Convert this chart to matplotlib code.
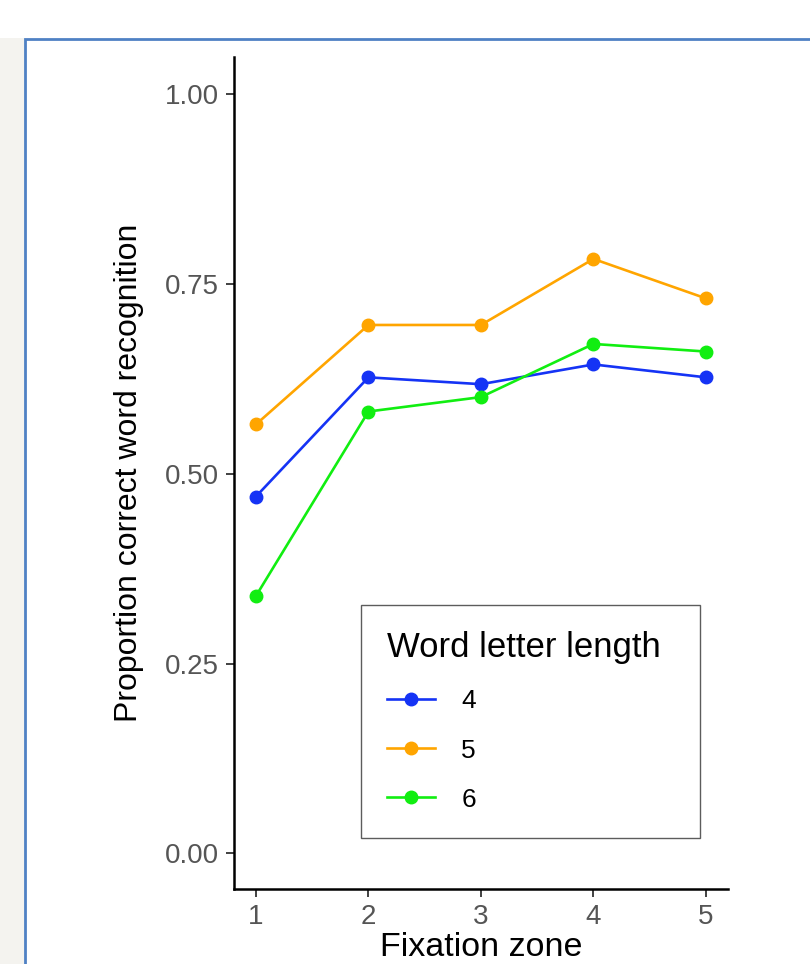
import matplotlib.pyplot as plt
from matplotlib.patches import Rectangle
from matplotlib.lines import Line2D

zones = [1, 2, 3, 4, 5]
len4 = [0.470, 0.627, 0.618, 0.644, 0.627]
len5 = [0.565, 0.696, 0.696, 0.783, 0.731]
len6 = [0.339, 0.582, 0.601, 0.671, 0.661]
series_labels = ["4", "5", "6"]
series_colors = ["#1533F5", "#FFA500", "#11EE11"]
yticks = [0.00, 0.25, 0.50, 0.75, 1.00]

plt.rcParams['font.family'] = ['Liberation Sans', 'DejaVu Sans']

W, H = 810, 964
fig = plt.figure(figsize=(W / 100, H / 100), dpi=100)

# fondo gris a la izquierda y marco azul
fig.patches.append(Rectangle((0, 0), 25 / W, (H - 38) / H, transform=fig.transFigure,
                             facecolor="#F4F3EF", edgecolor="none", zorder=0))
fig.patches.append(Rectangle((25 / W, -0.01), 1.0, (H - 39) / H + 0.01, transform=fig.transFigure,
                             facecolor="none", edgecolor="#4F81C4", linewidth=2, zorder=1))

ax = fig.add_axes([234 / W, (H - 889) / H, (728 - 234) / W, (889 - 57) / H])

for ys, lab, col in zip([len4, len5, len6], series_labels, series_colors):
    ax.plot(zones, ys, color=col, linewidth=1.9, marker="o", markersize=9, label=lab)

ax.set_xlim(0.805, 5.196)
ax.set_ylim(-0.047, 1.049)
ax.set_xticks(zones)
ax.set_yticks(yticks)
ax.set_yticklabels([f"{v:.2f}" for v in yticks])
for s in ["top", "right"]:
    ax.spines[s].set_visible(False)
for s in ["left", "bottom"]:
    ax.spines[s].set_linewidth(1.8)
ax.tick_params(axis="both", length=6, width=1.3, color="#333333",
               labelsize=20, labelcolor="#555555", pad=5)
ax.set_xlabel("Fixation zone", fontsize=24.5, labelpad=1)
ax.set_ylabel("Proportion correct word recognition", fontsize=23, labelpad=15)

handles = [Line2D([0], [0], color=c, linewidth=1.9, marker="o", markersize=9) for c in series_colors]
leg = ax.legend(handles, series_labels, title="Word letter length", loc="lower left",
                bbox_to_anchor=((361 - 234) / (728 - 234), (889 - 838) / (889 - 57),
                                (700 - 361) / (728 - 234), (838 - 609) / (889 - 57)),
                mode="expand", borderaxespad=0, fontsize=19, title_fontsize=25,
                frameon=True, fancybox=False, edgecolor="#333333", handlelength=1.8,
                labelspacing=0.95, borderpad=1.0, handletextpad=1.0, alignment="left")
leg.get_frame().set_linewidth(1.0)

fig.savefig("out.png", dpi=100)
